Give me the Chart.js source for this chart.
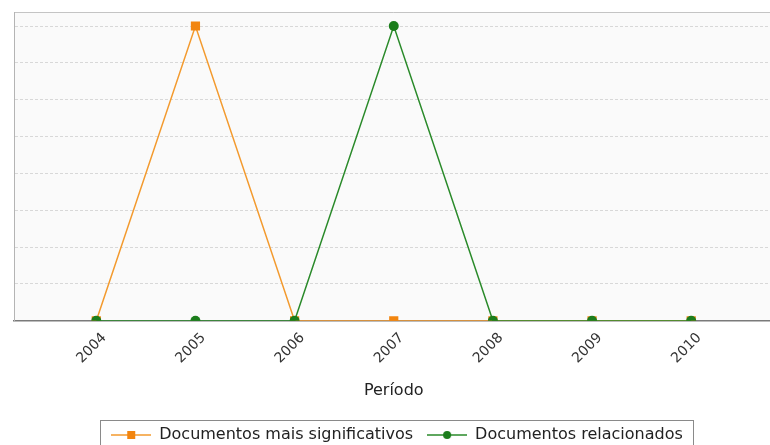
<!DOCTYPE html>
<html lang="pt">
<head>
    <meta charset="UTF-8">
    <title>Documentos por período</title>
    <script src="https://cdn.jsdelivr.net/npm/chart.js"></script>
    <style>
        html, body {
            margin: 0;
            padding: 0;
            background: #fff;
            overflow: hidden;
        }
        .chart-box {
            width: 780px;
            height: 455px;
        }
    </style>
</head>
<body>
    <div class="chart-box">
        <canvas id="periodChart"></canvas>
    </div>

    <script>
        // dados
        const anos = [2004, 2005, 2006, 2007, 2008, 2009, 2010];
        const maisSignificativos = [0, 1, 0, 0, 0, 0, 0];
        const relacionados = [0, 0, 0, 1, 0, 0, 0];
        const yTicks = [0, 0.125, 0.25, 0.375, 0.5, 0.625, 0.75, 0.875, 1];

        const LARANJA = '#f39a2e';
        const LARANJA_PONTO = '#f2850f';
        const VERDE = '#2a8a2a';
        const VERDE_PONTO = '#1b7d1b';

        // ícone da legenda: linha com marcador no meio
        function legendIcon(lineColor, fill, square) {
            const c = document.createElement('canvas');
            c.width = 40;
            c.height = 12;
            const g = c.getContext('2d');
            g.strokeStyle = lineColor;
            g.lineWidth = 1.5;
            g.beginPath();
            g.moveTo(0, 6);
            g.lineTo(40, 6);
            g.stroke();
            g.fillStyle = fill;
            if (square) {
                g.fillRect(16, 2, 8, 8);
            } else {
                g.beginPath();
                g.arc(20, 6, 4, 0, Math.PI * 2);
                g.fill();
            }
            return c;
        }
        const icones = [
            legendIcon(LARANJA, LARANJA_PONTO, true),
            legendIcon(VERDE, VERDE_PONTO, false)
        ];

        // fundo da área do gráfico e borda superior
        const areaPlugin = {
            id: 'areaPlugin',
            beforeDraw(chart) {
                const { ctx, chartArea: a } = chart;
                ctx.save();
                ctx.fillStyle = '#fafafa';
                ctx.fillRect(a.left, a.top, a.right - a.left, a.bottom - a.top);
                ctx.strokeStyle = '#c4c4c4';
                ctx.lineWidth = 1;
                ctx.beginPath();
                ctx.moveTo(a.left, a.top + 0.5);
                ctx.lineTo(a.right, a.top + 0.5);
                ctx.stroke();
                ctx.restore();
            },
            afterDraw(chart) {
                // moldura da legenda
                const boxes = chart.legend.legendHitBoxes;
                if (!boxes || !boxes.length) return;
                const first = boxes[0];
                const last = boxes[boxes.length - 1];
                const ctx = chart.ctx;
                ctx.save();
                ctx.strokeStyle = '#8a8a8a';
                ctx.lineWidth = 1;
                ctx.strokeRect(Math.round(first.left - 11) + 0.5, Math.round(first.top - 7) + 0.5,
                    Math.round(last.left + last.width - first.left + 21), 40);
                ctx.restore();
            }
        };

        const ctx = document.getElementById('periodChart').getContext('2d');
        new Chart(ctx, {
            type: 'line',
            data: {
                datasets: [{
                    label: 'Documentos mais significativos',
                    data: anos.map((a, i) => ({ x: a, y: maisSignificativos[i] })),
                    borderColor: LARANJA,
                    backgroundColor: LARANJA_PONTO,
                    borderWidth: 1.5,
                    pointStyle: 'rect',
                    pointRadius: 6.5,
                    pointBorderWidth: 0,
                    tension: 0,
                    order: 1
                }, {
                    label: 'Documentos relacionados',
                    data: anos.map((a, i) => ({ x: a, y: relacionados[i] })),
                    borderColor: VERDE,
                    backgroundColor: VERDE_PONTO,
                    borderWidth: 1.5,
                    pointStyle: 'circle',
                    pointRadius: 5,
                    pointBorderWidth: 0,
                    tension: 0,
                    order: 0
                }]
            },
            options: {
                responsive: true,
                maintainAspectRatio: false,
                animation: false,
                layout: {
                    padding: { left: 14, top: 12, right: 0, bottom: 2 }
                },
                scales: {
                    x: {
                        type: 'linear',
                        min: 2003.17,
                        max: 2010.83,
                        afterBuildTicks: scale => {
                            scale.ticks = anos.map(v => ({ value: v }));
                        },
                        grid: { display: false, drawTicks: false },
                        border: { color: '#7a7a7a', width: 1.5 },
                        ticks: {
                            minRotation: 45,
                            maxRotation: 45,
                            padding: 9,
                            labelOffset: 8,
                            color: '#333',
                            font: { family: 'DejaVu Sans', size: 14 },
                            callback: v => String(v)
                        },
                        title: {
                            display: true,
                            text: 'Período',
                            color: '#222',
                            font: { family: 'DejaVu Sans', size: 16 },
                            padding: { top: 5, bottom: 13 }
                        }
                    },
                    y: {
                        min: 0,
                        max: 1.0476,
                        afterBuildTicks: scale => {
                            scale.ticks = yTicks.map(v => ({ value: v }));
                        },
                        ticks: { display: false },
                        grid: {
                            drawTicks: false,
                            color: '#d8d8d8',
                            lineWidth: 1
                        },
                        border: { color: '#b4b4b4', dash: [3, 2] }
                    }
                },
                plugins: {
                    tooltip: { enabled: false },
                    legend: {
                        position: 'bottom',
                        labels: {
                            usePointStyle: true,
                            pointStyleWidth: 40,
                            padding: 14,
                            color: '#222',
                            font: { family: 'DejaVu Sans', size: 16 },
                            sort: (a, b) => a.datasetIndex - b.datasetIndex,
                            generateLabels: chart => {
                                return Chart.defaults.plugins.legend.labels.generateLabels(chart).map(item => {
                                    item.pointStyle = icones[item.datasetIndex];
                                    return item;
                                });
                            }
                        }
                    }
                }
            },
            plugins: [areaPlugin]
        });
    </script>
</body>
</html>
